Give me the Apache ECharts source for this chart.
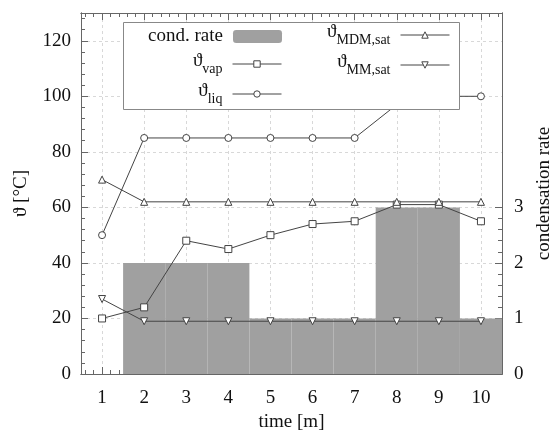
<!DOCTYPE html>
<html>
<head>
<meta charset="utf-8">
<script src="https://cdn.jsdelivr.net/npm/echarts@6/dist/echarts.min.js"></script>
<style>
html, body { margin: 0; padding: 0; background: #fff; }
#main { width: 550px; height: 432px; }
</style>
</head>
<body>
<div id="main"></div>
<script>
// data
var times = [1, 2, 3, 4, 5, 6, 7, 8, 9, 10];
var condRate = [0, 2, 2, 2, 1, 1, 1, 3, 3, 1];
var tVap = [20, 24, 48, 45, 50, 54, 55, 61, 61, 55];
var tLiq = [50, 85, 85, 85, 85, 85, 85, 97, 100, 100];
var tMDM = [70, 62, 62, 62, 62, 62, 62, 62, 62, 62];
var tMM = [27, 19, 19, 19, 19, 19, 19, 19, 19, 19];

var xTicks = [1, 2, 3, 4, 5, 6, 7, 8, 9, 10];
var tempTicks = [0, 20, 40, 60, 80, 100, 120];
var rateTicks = [0, 1, 2, 3];

var FONT = 'Liberation Serif, DejaVu Serif, serif';
var AXIS = '#666';
var LINE = '#444';
var BAR = '#a0a0a0';

// minor tick positions (5 divisions between majors)
var xMinor = [], tempMinor = [], rateMinor = [];
for (var i = 3; i <= 52; i++) { if (i % 5) xMinor.push(i / 5); }
for (var i = 1; i <= 32; i++) { if (i % 5) tempMinor.push(i * 4); }
for (var i = 1; i <= 14; i++) { if (i % 5) rateMinor.push(i / 5); }

function pairs(ys) {
    var out = [];
    for (var k = 0; k < times.length; k++) out.push([times[k], ys[k]]);
    return out;
}

function axisBase(pos, min, max) {
    return {
        type: 'value', position: pos, min: min, max: max,
        axisLine: { show: true, onZero: false, lineStyle: { color: AXIS, width: 1 } },
        splitLine: { show: false },
        axisLabel: { show: false },
        axisTick: { show: false }
    };
}
function majorAxis(pos, min, max, ticks, labels, grid) {
    var a = axisBase(pos, min, max);
    a.axisTick = { show: true, inside: true, length: 7, customValues: ticks, lineStyle: { color: AXIS } };
    if (labels) {
        a.axisLabel = { show: true, customValues: ticks, fontFamily: FONT, fontSize: 19, color: '#111', margin: 10 };
    }
    if (grid) {
        a.splitLine = { show: true, lineStyle: { color: '#d8d8d8', type: [3, 3], width: 1 } };
    }
    return a;
}
function minorAxis(pos, min, max, ticks) {
    var a = axisBase(pos, min, max);
    a.axisTick = { show: true, inside: true, length: 4, customValues: ticks, lineStyle: { color: AXIS } };
    return a;
}

var xBottom = majorAxis('bottom', 0.5, 10.5, xTicks, true, true);
xBottom.axisLabel.margin = 15;
xBottom.name = 'time [m]';
xBottom.nameLocation = 'middle';
xBottom.nameGap = 35;
xBottom.nameTextStyle = { fontFamily: FONT, fontSize: 19, color: '#111' };

var yLeft = majorAxis('left', 0, 130, tempTicks, true, true);
yLeft.name = 'ϑ [°C]';
yLeft.nameLocation = 'middle';
yLeft.nameGap = 50;
yLeft.nameRotate = 90;
yLeft.nameTextStyle = { fontFamily: FONT, fontSize: 19, color: '#111' };

var yRight = majorAxis('right', 0, 6.5, rateTicks, true, false);
yRight.axisLabel.margin = 12;
yRight.name = 'condensation rate';
yRight.nameLocation = 'middle';
yRight.nameGap = 32;
yRight.nameRotate = 90;
yRight.nameTextStyle = { fontFamily: FONT, fontSize: 19, color: '#111' };

var legendNames = {
    'cond. rate': 'cond. rate',
    'vap': '{g|ϑ}{s|vap}',
    'liq': '{g|ϑ}{s|liq}',
    'MDM,sat': '{g|ϑ}{s|MDM,sat}',
    'MM,sat': '{g|ϑ}{s|MM,sat}'
};
var legendText = {
    fontFamily: FONT, fontSize: 19, color: '#111', padding: [0, 5, 0, 0],
    rich: {
        g: { fontFamily: FONT, fontSize: 19, color: '#111', verticalAlign: 'bottom', padding: [0, 0, 5, 0] },
        s: { fontFamily: FONT, fontSize: 14, color: '#111', verticalAlign: 'bottom' }
    }
};
function legendBlock(names, right, top, h, gap, isLine) {
    var lg = {
        data: names, orient: 'vertical', align: 'right', right: right, top: top,
        padding: 0, itemWidth: 49, itemHeight: h, itemGap: gap, z: 6,
        formatter: function (n) { return legendNames[n]; },
        textStyle: legendText, selectedMode: false
    };
    if (isLine) {
        lg.lineStyle = { color: LINE, width: 1 };
        lg.itemStyle = { color: '#fff', borderColor: LINE, borderWidth: 1 };
    }
    return lg;
}

var lineSeries = function (name, ys, symbol, rotate) {
    return {
        name: name, type: 'line', xAxisIndex: 0, yAxisIndex: 0, z: 4,
        data: pairs(ys), symbol: symbol, symbolSize: 7, symbolRotate: rotate || 0,
        showAllSymbol: true, animation: false,
        lineStyle: { color: LINE, width: 1 },
        itemStyle: { color: '#fff', borderColor: LINE, borderWidth: 1 }
    };
};

var chart = echarts.init(document.getElementById('main'));
chart.setOption({
    animation: false,
    backgroundColor: '#fff',
    grid: { left: 81, right: 48, top: 13, bottom: 58, outerBoundsMode: 'none' },
    xAxis: [
        xBottom,
        majorAxis('top', 0.5, 10.5, xTicks, false, false),
        minorAxis('bottom', 0.5, 10.5, xMinor),
        minorAxis('top', 0.5, 10.5, xMinor)
    ],
    yAxis: [
        yLeft,
        yRight,
        minorAxis('left', 0, 130, tempMinor),
        minorAxis('right', 0, 6.5, rateMinor)
    ],
    legend: [
        legendBlock(['cond. rate'], 268, 27, 13, 10, false),
        legendBlock(['vap', 'liq'], 268, 52, 8, 6, true),
        legendBlock(['MDM,sat', 'MM,sat'], 100, 23, 8, 6, true)
    ],
    graphic: [{
        type: 'rect', z: 5,
        shape: { x: 123.5, y: 22.5, width: 336, height: 87 },
        style: { fill: '#fff', stroke: '#888', lineWidth: 1 }
    }],
    series: [
        {
            name: 'cond. rate', type: 'custom', xAxisIndex: 0, yAxisIndex: 1, z: 2,
            data: pairs(condRate),
            itemStyle: { color: BAR },
            renderItem: function (params, api) {
                var x = api.value(0), v = api.value(1);
                var p0 = api.coord([x - 0.5, v]);
                var p1 = api.coord([x + 0.5, 0]);
                return {
                    type: 'rect',
                    shape: { x: p0[0], y: p0[1], width: p1[0] - p0[0], height: p1[1] - p0[1] },
                    style: { fill: BAR }
                };
            }
        },
        lineSeries('vap', tVap, 'rect'),
        lineSeries('liq', tLiq, 'circle'),
        lineSeries('MDM,sat', tMDM, 'triangle'),
        lineSeries('MM,sat', tMM, 'triangle', 180)
    ]
});
</script>
</body>
</html>
